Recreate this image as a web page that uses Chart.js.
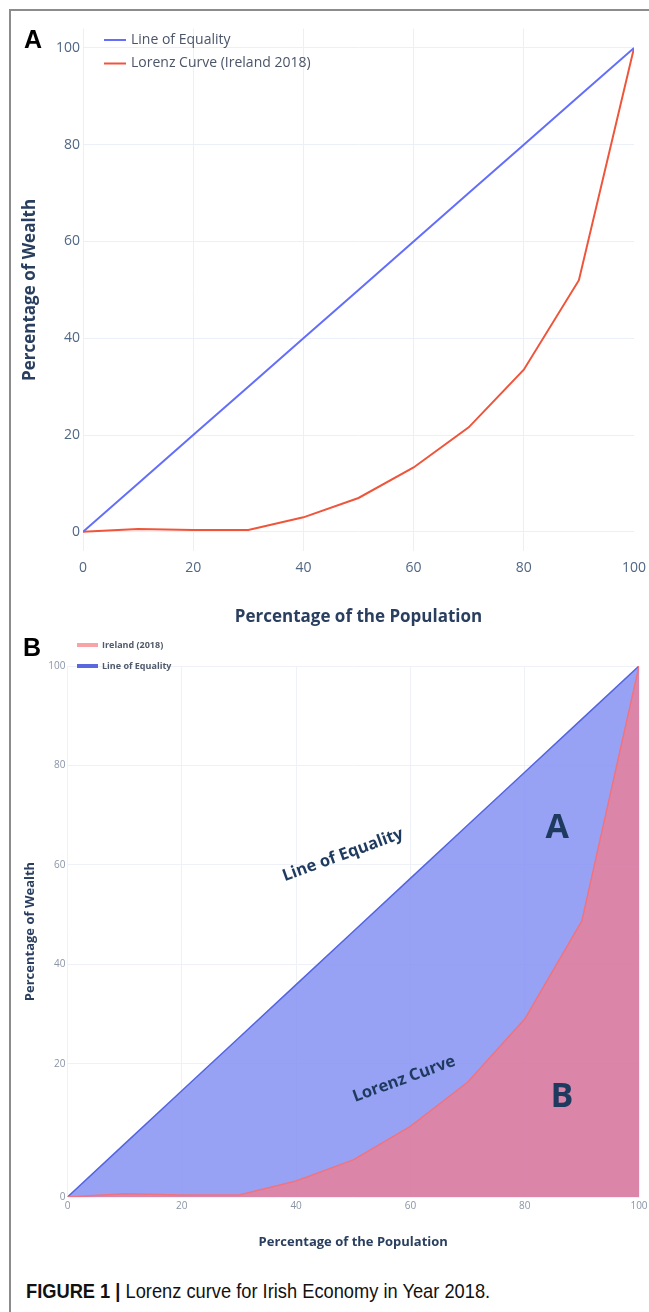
<!DOCTYPE html>
<html><head><meta charset="utf-8">
<script src="https://cdn.jsdelivr.net/npm/chart.js@4.4.1/dist/chart.umd.min.js"></script>
<style>
html,body{margin:0;padding:0;background:#fff;}
body{width:649px;height:1312px;position:relative;overflow:hidden;}
#frameTop{position:absolute;left:9px;top:9px;width:640px;height:0;border-top:2px solid #8c8c8c;}
#frameLeft{position:absolute;left:9px;top:9px;width:0;height:1303px;border-left:2px solid #8c8c8c;}
.panel{position:absolute;font:bold 25px "Liberation Sans",Arial,sans-serif;color:#000;line-height:25px;}
canvas{position:absolute;left:0;}
#ca{top:0;}
#cb{top:628px;}
#caption{position:absolute;left:26px;top:1279px;font:21px "Liberation Sans",Arial,sans-serif;color:#111;white-space:nowrap;line-height:24px;transform:scaleX(0.87);transform-origin:0 50%;}
#caption b{font-weight:bold;}
</style></head>
<body>
<div id="frameTop"></div><div id="frameLeft"></div>
<canvas id="ca" width="649" height="640"></canvas>
<canvas id="cb" width="649" height="640"></canvas>
<div class="panel" style="left:24px;top:27px;">A</div>
<div class="panel" style="left:23px;top:635px;">B</div>
<div id="caption"><b>FIGURE 1 |</b> Lorenz curve for Irish Economy in Year 2018.</div>
<script>
// ---- data ----
const populationPct = [0, 10, 20, 30, 40, 50, 60, 70, 80, 90, 100];
const lorenzWealthPct = [0, 0.6, 0.4, 0.4, 3, 7, 13.3, 21.6, 33.5, 52, 100];
const equalityWealthPct = [0, 10, 20, 30, 40, 50, 60, 70, 80, 90, 100];
const xTickValues = [0, 20, 40, 60, 80, 100];
const yTickValues = [0, 20, 40, 60, 80, 100];
const seriesNamesA = ['Line of Equality', 'Lorenz Curve (Ireland 2018)'];
const seriesNamesB = ['Ireland (2018)', 'Line of Equality'];
const xAxisTitle = 'Percentage of the Population';
const yAxisTitle = 'Percentage of Wealth';
const noteTextsB = ['Line of Equality', 'Lorenz Curve', 'A', 'B'];

function toPoints(xs, ys) { return xs.map((x, i) => ({ x: x, y: ys[i] })); }
function tickSetter(values) { return s => { s.ticks = values.map(v => ({ value: v })); }; }

// In panel B of the source figure the 20..80 grid/labels sit on a slightly
// compressed grid (its baseline would lie below the 0 line); reproduce that placement.
const B_GRID_SPAN = 106.8;
function bGridPos(v) { return v === 0 ? 0 : 100 - (100 - v) * 100 / B_GRID_SPAN; }

function makeLegend(cfg) {
  return {
    id: 'customLegend',
    afterDraw(chart) {
      const ctx = chart.ctx;
      ctx.save();
      chart.data.datasets.forEach((ds, i) => {
        const y = cfg.y0 + i * cfg.dy;
        ctx.strokeStyle = ds.legendColor || ds.borderColor;
        ctx.lineWidth = cfg.lineWidth;
        ctx.beginPath(); ctx.moveTo(cfg.x1, y); ctx.lineTo(cfg.x2, y); ctx.stroke();
        ctx.fillStyle = cfg.color; ctx.font = cfg.font;
        ctx.textBaseline = 'middle'; ctx.textAlign = 'left';
        ctx.fillText(ds.label, cfg.textX, y);
      });
      ctx.restore();
    }
  };
}
function makeNotes(items) {
  return {
    id: 'textNotes',
    afterDatasetsDraw(chart) {
      const ctx = chart.ctx, xs = chart.scales.x, ys = chart.scales.y;
      items.forEach(it => {
        ctx.save();
        ctx.translate(xs.getPixelForValue(it.x), ys.getPixelForValue(it.y));
        ctx.rotate(it.rotation * Math.PI / 180);
        ctx.font = it.font; ctx.fillStyle = it.color;
        ctx.textAlign = 'center'; ctx.textBaseline = 'middle';
        ctx.fillText(it.text, 0, 0);
        ctx.restore();
      });
    }
  };
}

const OS = 'Open Sans';
const CLEAR = 'rgba(0,0,0,0)';

// ---- Panel A ----
new Chart(document.getElementById('ca'), {
  type: 'line',
  data: { datasets: [
    { label: seriesNamesA[0], data: toPoints(populationPct, equalityWealthPct), borderColor: '#636efa', borderWidth: 2, pointRadius: 0, fill: false, tension: 0 },
    { label: seriesNamesA[1], data: toPoints(populationPct, lorenzWealthPct), borderColor: '#ef553b', borderWidth: 2, pointRadius: 0, fill: false, tension: 0 }
  ]},
  options: {
    responsive: false, animation: false, devicePixelRatio: 1,
    layout: { padding: { left: 20, right: 15, top: 28.6, bottom: 13 } },
    plugins: { legend: { display: false }, tooltip: { enabled: false } },
    scales: {
      x: { type: 'linear', min: 0, max: 100, afterBuildTicks: tickSetter(xTickValues),
        ticks: { padding: 0, color: '#506784', font: { family: OS, size: 14 } },
        grid: { color: c => (c.tick && c.tick.value === 100 ? CLEAR : '#ebf0f8'), drawTicks: true, tickLength: 8, tickColor: CLEAR },
        border: { display: false },
        title: { display: true, text: xAxisTitle, color: '#2a3f5f', padding: 0, font: { family: OS, size: 17, weight: 'bold' } },
        afterFit: s => { s.height = 75.8; } },
      y: { type: 'linear', min: -4, max: 104, afterBuildTicks: tickSetter(yTickValues),
        ticks: { padding: 3, color: '#506784', font: { family: OS, size: 14 } },
        grid: { color: '#ebf0f8', drawTicks: false }, border: { display: false },
        title: { display: true, text: yAxisTitle, color: '#2a3f5f', padding: 0, font: { family: OS, size: 17, weight: 'bold' } },
        afterFit: s => { s.width = 63; } }
    }
  },
  plugins: [makeLegend({ x1: 104, x2: 126, textX: 131, y0: 40, dy: 23.5, lineWidth: 2, color: '#4a5568', font: '14px "Open Sans"' })]
});

// ---- Panel B ----
new Chart(document.getElementById('cb'), {
  type: 'line',
  data: { datasets: [
    { label: seriesNamesB[0], data: toPoints(populationPct, lorenzWealthPct), borderColor: '#f0737f', legendColor: '#f8a3a6', borderWidth: 1.5, pointRadius: 0, tension: 0,
      fill: 'origin', backgroundColor: 'rgba(213,114,155,0.86)' },
    { label: seriesNamesB[1], data: toPoints(populationPct, equalityWealthPct), borderColor: '#5565e0', legendColor: '#5a68e0', borderWidth: 1.5, pointRadius: 0, tension: 0,
      fill: '-1', backgroundColor: 'rgba(134,147,243,0.86)' }
  ]},
  options: {
    responsive: false, animation: false, devicePixelRatio: 1,
    layout: { padding: { left: 22.2, right: 10, top: 38, bottom: 18.2 } },
    plugins: { legend: { display: false }, tooltip: { enabled: false } },
    scales: {
      x: { type: 'linear', min: 0, max: 100, afterBuildTicks: tickSetter(xTickValues),
        ticks: { padding: 0, color: '#8a94a6', font: { family: OS, size: 10 } },
        grid: { color: '#eef2f8', drawTicks: true, tickLength: 3, tickColor: CLEAR }, border: { display: false },
        title: { display: true, text: xAxisTitle, color: '#2a3f5f', padding: 0, font: { family: OS, size: 13, weight: 'bold' } },
        afterFit: s => { s.height = 52.8; } },
      y: { type: 'linear', position: 'left', min: 0, max: 100,
        afterBuildTicks: s => { s.ticks = yTickValues.map(v => ({ value: bGridPos(v) })); },
        ticks: { padding: 2, color: '#8a94a6', font: { family: OS, size: 10 }, callback: (v, i) => String(yTickValues[i]) },
        grid: { color: '#eef2f8', drawTicks: false }, border: { display: false },
        title: { display: true, text: yAxisTitle, color: '#2a3f5f', padding: 0, font: { family: OS, size: 13, weight: 'bold' } },
        afterFit: s => { s.width = 45.3; } }
    }
  },
  plugins: [
    makeLegend({ x1: 77, x2: 98, textX: 102, y0: 17, dy: 21, lineWidth: 4, color: '#505a6a', font: 'bold 9px "Open Sans"' }),
    makeNotes([
      { text: noteTextsB[0], x: 48.2, y: 64.4, rotation: -20, font: 'bold 16.5px "Open Sans"', color: '#1f3a5f' },
      { text: noteTextsB[1], x: 58.9, y: 22.2, rotation: -20, font: 'bold 16.5px "Open Sans"', color: '#1f3a5f' },
      { text: noteTextsB[2], x: 85.7, y: 69.5, rotation: 0, font: 'bold 34px "Open Sans"', color: '#1f3a5f' },
      { text: noteTextsB[3], x: 86.5, y: 18.8, rotation: 0, font: 'bold 34px "Open Sans"', color: '#1f3a5f' }
    ])
  ]
});
</script>
</body></html>
